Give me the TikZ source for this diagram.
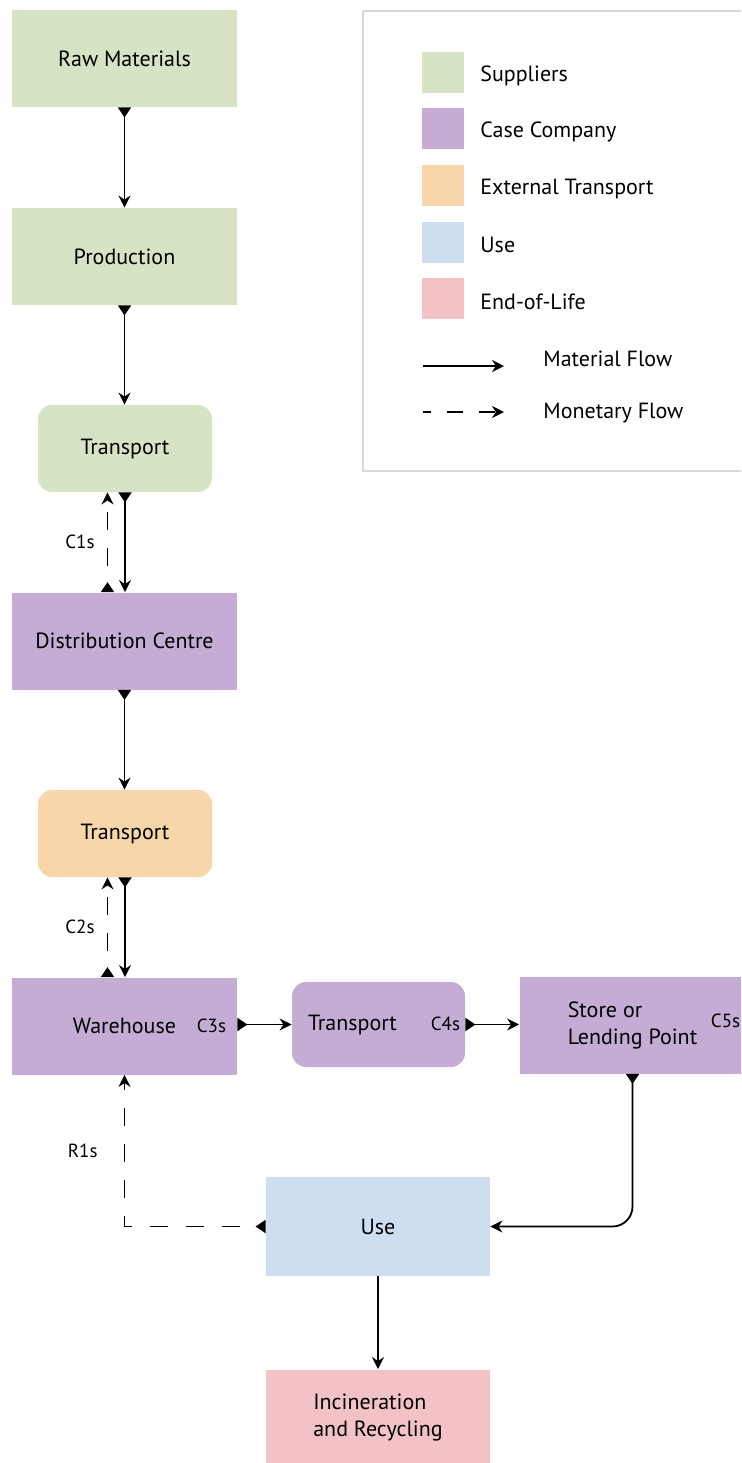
\documentclass[tikz,border=0pt]{standalone}
\usepackage{fontspec}
\setmainfont{PT Sans}
\usepackage{tikz}
\usetikzlibrary{arrows.meta,positioning}

\definecolor{suppcol}{HTML}{D6E4C5}
\definecolor{compcol}{HTML}{C4ACD5}
\definecolor{extcol}{HTML}{F7D6A9}
\definecolor{usecol}{HTML}{CEDEF0}
\definecolor{eolcol}{HTML}{F2C2C6}

\tikzset{
 blk/.style={minimum width=112.5pt, minimum height=48.5pt, inner sep=0pt,
  font=\fontsize{11}{13.5}\selectfont, align=left},
 rblk/.style={blk, rounded corners=7pt, minimum width=87pt, minimum height=43.5pt},
 code/.style={font=\fontsize{9.5}{10}\selectfont, inner sep=1pt},
 keybox/.style={minimum width=21pt, minimum height=20.5pt, inner sep=0pt},
 keytxt/.style={anchor=west, inner sep=0pt, font=\fontsize{11}{13}\selectfont},
 flow/.style={line width=0.9pt, -{Stealth[length=6pt,width=6pt]}},
 fflow/.style={flow, {Triangle[reversed,length=5pt,width=6.5pt]}-{Stealth[length=6pt,width=6pt]}},
 mflow/.style={fflow, dash pattern=on 9pt off 9pt, dash phase=9pt}
}

\begin{document}
\begin{tikzpicture}[x=0.5pt,y=-0.5pt]
 \clip (0,0) rectangle (741,1463);

 % legend
 \node[draw=black!15, line width=0.8pt, minimum width=200pt, minimum height=230pt,
  anchor=north west, inner sep=0pt] (legend) at (362,10) {};
 \foreach \k/\c/\t/\y in {a/suppcol/Suppliers/72.5, b/compcol/Case Company/128.5,
  c/extcol/External Transport/185.5, d/usecol/Use/242, e/eolcol/End-of-Life/298.5} {
  \node[keybox, fill=\c] (key\k) at (443,\y) {};
  \node[keytxt] (txt\k) at (480,\y+3) {\t};
 }
 \coordinate (mf0) at (423,366); \coordinate (mf1) at (504,366);
 \draw[flow] (mf0) -- (mf1);
 \node[keytxt] (mftxt) at (543,359) {Material Flow};
 \coordinate (mo0) at (423,412); \coordinate (mo1) at (504,412);
 \draw[flow, dash pattern=on 8pt off 8pt, dash phase=4pt] (mo0) -- (mo1);
 \node[keytxt] (motxt) at (543,413) {Monetary Flow};

 % suppliers
 \node[blk, fill=suppcol] (raw) at (124.5,58.5) {Raw Materials};
 \node[blk, fill=suppcol] (prod) at (124.5,256.5) {Production};
 \node[rblk, fill=suppcol] (trs) at (125,448.5) {Transport};

 % case company
 \node[blk, fill=compcol] (dc) at (124.5,641) {Distribution Centre};
 \node[rblk, fill=extcol] (tre) at (125,833.5) {Transport};
 \node[blk, fill=compcol] (wh) at (124.5,1026) {Warehouse};
 \node[rblk, fill=compcol, minimum width=86.5pt, minimum height=42.5pt,
  inner xsep=8pt, text width=70.5pt] (trc) at (378.5,1024.5) {Transport};
 \node[blk, fill=compcol, minimum width=113pt] (st) at (632.5,1025) {Store or\\Lending Point};
 \node[code, anchor=east] (c3) at ([xshift=-4.5pt]wh.east) {C3s};
 \node[code, anchor=east] (c4) at ([xshift=-1.5pt,yshift=0.5pt]trc.east) {C4s};
 \node[code, anchor=west] (c5) at ([xshift=38pt,yshift=2pt]st.center) {C5s};

 % use and end of life
 \node[blk, fill=usecol, minimum width=112pt, minimum height=49.5pt] (use) at (378,1226.5) {Use};
 \node[blk, fill=eolcol, minimum width=112pt] (eol) at (378,1418) {Incineration\\and Recycling};

 % material flow
 \draw[fflow] (raw.south) -- (prod.north);
 \draw[fflow] (prod.south) -- (prod.south |- trs.north);
 \draw[fflow] (trs.south) -- (trs.south |- dc.north);
 \draw[fflow] (dc.south) -- (dc.south |- tre.north);
 \draw[fflow] (tre.south) -- (tre.south |- wh.north);
 \draw[fflow] (wh.east |- trc.west) -- (trc.west);
 \draw[fflow] (trc.east) -- (trc.east -| st.west);
 \draw[fflow, rounded corners=10pt] (st.south) |- (use.east);
 \draw[flow] (use.south) -- (eol.north);

 % monetary flow
 \draw[mflow] ([xshift=-8.5pt]dc.north) -- ([xshift=-8.5pt]dc.north |- trs.south)
  node[code, midway, left=5pt] (c1) {C1s};
 \draw[mflow] ([xshift=-8.5pt]wh.north) -- ([xshift=-8.5pt]wh.north |- tre.south)
  node[code, midway, left=5pt] (c2) {C2s};
 \draw[mflow] (use.west) -| (wh.south)
  node[code, pos=0.75, left=12pt] (r1) {R1s};
\end{tikzpicture}
\end{document}
